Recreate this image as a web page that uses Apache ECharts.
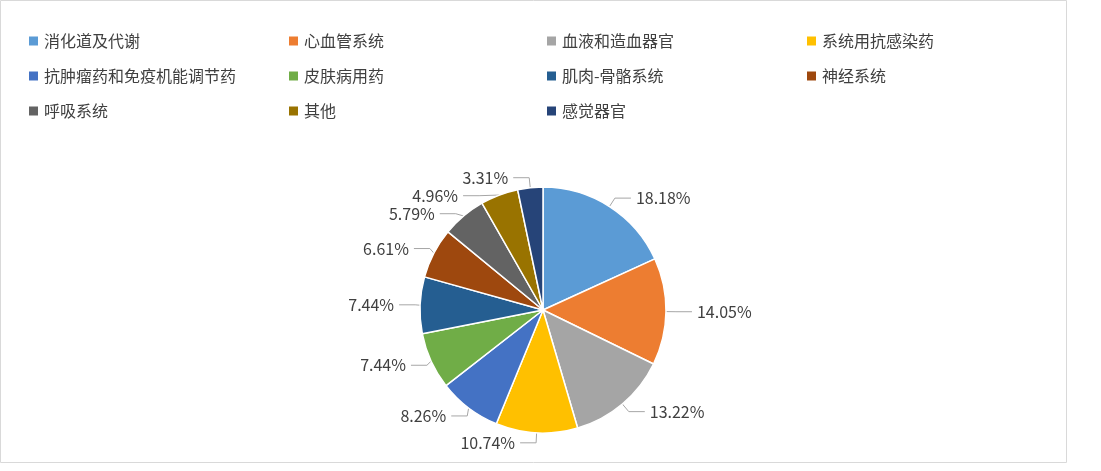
<!DOCTYPE html>
<html><head><meta charset="utf-8">
<script src="https://cdn.jsdelivr.net/npm/echarts@6/dist/echarts.min.js"></script>
<style>html,body{margin:0;padding:0;background:#fff}#c{width:1101px;height:471px}</style>
</head><body><div id="c"></div>
<script>
const categories=['消化道及代谢','心血管系统','血液和造血器官','系统用抗感染药','抗肿瘤药和免疫机能调节药','皮肤病用药','肌肉-骨骼系统','神经系统','呼吸系统','其他','感觉器官'];
const values=[22,17,16,13,10,9,9,8,7,6,4];
const colors=['#5B9BD5','#ED7D31','#A5A5A5','#FFC000','#4472C4','#70AD47','#255E91','#9E480E','#636363','#997300','#264478'];
const chart=echarts.init(document.getElementById('c'));
const colX=[22,282,540,800];
const legends=colX.map((x,i)=>({
  orient:'vertical',left:x,top:28,itemGap:19,itemWidth:11,itemHeight:11,icon:'rect',
  data:categories.filter((_,k)=>k%4===i),
  textStyle:{fontSize:16,color:'#404040',fontFamily:'Noto Sans CJK SC'}
}));
chart.setOption({
  color:colors,
  animation:false,
  graphic:[{type:'rect',shape:{x:0.5,y:0.5,width:1066,height:462},style:{fill:'none',stroke:'#d9d9d9',lineWidth:1}}],
  legend:legends,
  series:[{type:'pie',center:[543,310],radius:123,startAngle:90,clockwise:true,
    data:categories.map((n,i)=>({name:n,value:values[i]})),
    itemStyle:{borderColor:'#fff',borderWidth:1.5},
    label:{formatter:p=>(p.value/121*100).toFixed(2)+'%',fontSize:16,color:'#404040',fontFamily:'Noto Sans CJK SC'},
    labelLine:{length:10,length2:16,lineStyle:{color:'#a6a6a6'}}
  }]
});
</script></body></html>
